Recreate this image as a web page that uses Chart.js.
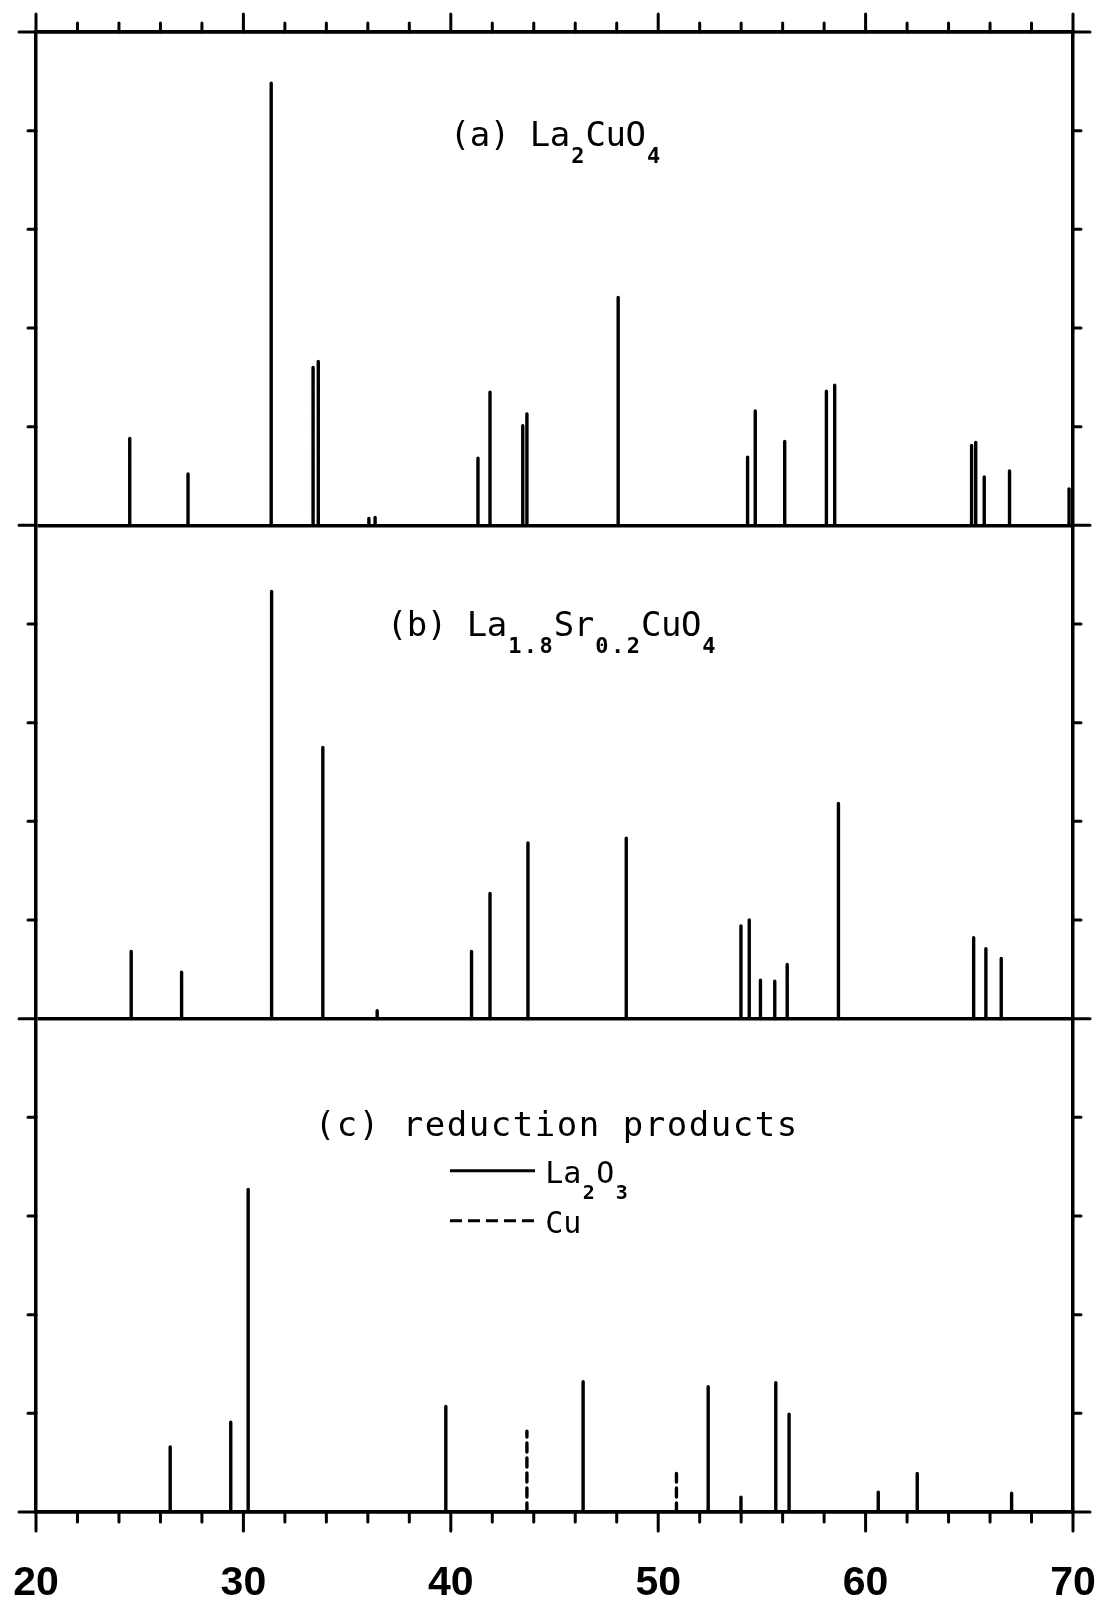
<!DOCTYPE html>
<html>
<head>
<meta charset="utf-8">
<title>XRD line patterns</title>
<script src="https://cdn.jsdelivr.net/npm/chart.js@4.4.1/dist/chart.umd.min.js"></script>
<style>
  html, body { margin: 0; padding: 0; background: #fff; }
  #wrap { width: 1100px; height: 1606px; }
</style>
</head>
<body>
<div id="wrap"><canvas id="xrd" width="1100" height="1606"></canvas></div>
<script>
// bottom axis labels (2 theta, degrees)
var xTickLabels = [20, 30, 40, 50, 60, 70];

// (a) La2CuO4 : peak position (2 theta) and height (in y tick units)
var posA = [24.52, 27.33, 31.34, 33.36, 33.61, 36.05, 36.35, 41.31, 41.89, 43.47, 43.67,
            48.07, 54.31, 54.68, 56.10, 58.11, 58.51, 65.11, 65.31, 65.72, 66.94, 69.81];
var intA = [0.88, 0.52, 4.48, 1.60, 1.66, 0.07, 0.08, 0.68, 1.35, 1.01, 1.13,
            2.31, 0.69, 1.16, 0.85, 1.36, 1.42, 0.81, 0.84, 0.49, 0.55, 0.37];

// (b) La1.8Sr0.2CuO4
var posB = [24.59, 27.02, 31.36, 33.83, 36.45, 41.00, 41.89, 43.72, 48.46,
            53.99, 54.39, 54.93, 55.62, 56.22, 58.69, 65.21, 65.80, 66.54];
var intB = [0.68, 0.47, 4.33, 2.75, 0.08, 0.68, 1.27, 1.78, 1.83,
            0.94, 1.00, 0.39, 0.38, 0.55, 2.18, 0.82, 0.71, 0.61];

// (c) reduction products : La2O3 (solid) and Cu (dashed)
var posLa2O3 = [26.47, 29.39, 30.23, 39.76, 46.38, 52.41, 53.99, 55.67, 56.31, 60.61, 62.49, 67.04];
var intLa2O3 = [0.66, 0.91, 3.27, 1.07, 1.32, 1.27, 0.15, 1.31, 0.99, 0.20, 0.39, 0.19];
var posCu = [43.67, 50.88];
var intCu = [0.82, 0.39];

// each panel is 5 y-units tall, stacked on one axis
var panelBase = { a: 10, b: 5, c: 0 };

// turn positions/heights into vertical stick segments for a line dataset
function sticks(pos, hgt, base) {
    var pts = [];
    pos.forEach(function (x, i) {
        pts.push({ x: x, y: base });
        pts.push({ x: x, y: base + hgt[i] });
        pts.push({ x: x, y: null });
    });
    return pts;
}

function stickSet(label, data, dash) {
    return {
        label: label,
        data: data,
        borderColor: '#000',
        borderWidth: 3.4,
        borderDash: dash || [],
        borderCapStyle: 'round',
        pointRadius: 0,
        spanGaps: false,
        tension: 0
    };
}

// draw plotter style text cell by cell, subscripts smaller and lowered
function drawMono(ctx, parts, x, y, st) {
    var cx = x;
    parts.forEach(function (p) {
        var sub = p[1];
        var size = sub ? st.subSize : st.size;
        var pitch = sub ? st.subPitch : st.pitch;
        var by = sub ? y + st.drop : y;
        ctx.font = (sub ? 'bold ' : '') + size + 'px "DejaVu Sans Mono", monospace';
        for (var i = 0; i < p[0].length; i++) {
            ctx.fillText(p[0][i], cx + pitch / 2, by);
            cx += pitch;
        }
    });
}

var labelA = [['(a) La', 0], ['2', 1], ['CuO', 0], ['4', 1]];
var labelB = [['(b) La', 0], ['1.8', 1], ['Sr', 0], ['0.2', 1], ['CuO', 0], ['4', 1]];
var labelC = [['(c) reduction products', 0]];
var legLa = [['La', 0], ['2', 1], ['O', 0], ['3', 1]];
var legCu = [['Cu', 0]];

var frameDecor = {
    id: 'frameDecor',
    afterDraw: function (chart) {
        var ctx = chart.ctx, xs = chart.scales.x, ys = chart.scales.y, area = chart.chartArea;
        ctx.save();
        ctx.strokeStyle = '#000';
        ctx.lineWidth = 3;
        ctx.lineCap = 'round';
        ctx.beginPath();
        // top & bottom ticks, major every 10, minor every 2
        for (var v = 20; v <= 70; v += 2) {
            var px = xs.getPixelForValue(v);
            var major = v % 10 === 0;
            ctx.moveTo(px, area.top);
            ctx.lineTo(px, area.top - (major ? 18 : 9));
            ctx.moveTo(px, area.bottom);
            ctx.lineTo(px, area.bottom + (major ? 19 : 10));
        }
        // left & right ticks, panel boundaries run past the frame
        for (var u = 0; u <= 15; u++) {
            var py = ys.getPixelForValue(u);
            var len = u % 5 === 0 ? 17 : 8;
            ctx.moveTo(area.left, py);
            ctx.lineTo(area.left - len, py);
            ctx.moveTo(area.right, py);
            ctx.lineTo(area.right + len, py);
        }
        ctx.stroke();

        // panel captions
        ctx.fillStyle = '#000';
        ctx.textAlign = 'center';
        ctx.textBaseline = 'alphabetic';
        var capStyle = { size: 34, pitch: 20, subSize: 22, subPitch: 15.7, drop: 17 };
        drawMono(ctx, labelA, xs.getPixelForValue(39.96), ys.getPixelForValue(13.84), capStyle);
        drawMono(ctx, labelB, xs.getPixelForValue(36.92), ys.getPixelForValue(8.874), capStyle);
        drawMono(ctx, labelC, xs.getPixelForValue(33.40), ys.getPixelForValue(3.806),
            { size: 34, pitch: 22, subSize: 21, subPitch: 15, drop: 17 });

        // legend of panel (c)
        var legStyle = { size: 30, pitch: 18, subSize: 20, subPitch: 15, drop: 16 };
        var lx0 = xs.getPixelForValue(39.96), lx1 = xs.getPixelForValue(44.06);
        var ly1 = ys.getPixelForValue(3.459), ly2 = ys.getPixelForValue(2.952);
        ctx.lineCap = 'butt';
        ctx.beginPath();
        ctx.moveTo(lx0, ly1);
        ctx.lineTo(lx1, ly1);
        ctx.stroke();
        ctx.setLineDash([12, 6]);
        ctx.beginPath();
        ctx.moveTo(lx0, ly2);
        ctx.lineTo(lx1, ly2);
        ctx.stroke();
        ctx.setLineDash([]);
        drawMono(ctx, legLa, xs.getPixelForValue(44.55), ys.getPixelForValue(3.338), legStyle);
        drawMono(ctx, legCu, xs.getPixelForValue(44.55), ys.getPixelForValue(2.830), legStyle);
        ctx.restore();
    }
};

var ctx = document.getElementById('xrd').getContext('2d');
var chart = new Chart(ctx, {
    type: 'line',
    data: {
        datasets: [
            stickSet('La2CuO4', sticks(posA, intA, panelBase.a)),
            stickSet('La1.8Sr0.2CuO4', sticks(posB, intB, panelBase.b)),
            stickSet('La2O3', sticks(posLa2O3, intLa2O3, panelBase.c)),
            stickSet('Cu', sticks(posCu, intCu, panelBase.c), [9, 6])
        ]
    },
    options: {
        responsive: false,
        animation: false,
        layout: { padding: 0, autoPadding: false },
        plugins: {
            legend: { display: false },
            tooltip: { enabled: false }
        },
        scales: {
            x: {
                type: 'linear',
                position: 'bottom',
                min: 20,
                max: 70,
                afterBuildTicks: function (scale) {
                    scale.ticks = xTickLabels.map(function (v) { return { value: v }; });
                },
                afterFit: function (scale) {
                    scale.height = 94;
                    scale.paddingLeft = 0;
                    scale.paddingRight = 0;
                },
                ticks: {
                    autoSkip: false,
                    maxRotation: 0,
                    padding: 47,
                    color: '#000',
                    font: { family: '"Liberation Sans", Arial, sans-serif', size: 41, weight: 'bold' }
                },
                grid: { drawOnChartArea: false, drawTicks: false },
                border: { display: true, color: '#000', width: 3.5 }
            },
            xTop: {
                type: 'linear',
                position: 'top',
                min: 20,
                max: 70,
                afterFit: function (scale) {
                    scale.height = 32;
                    scale.paddingLeft = 0;
                    scale.paddingRight = 0;
                },
                ticks: { display: false },
                grid: { drawOnChartArea: false, drawTicks: false },
                border: { display: true, color: '#000', width: 3.5 }
            },
            y: {
                type: 'linear',
                position: 'left',
                min: 0,
                max: 15,
                afterFit: function (scale) { scale.width = 36; },
                ticks: { display: false, stepSize: 1 },
                grid: {
                    drawTicks: false,
                    color: function (c) { return c.tick && c.tick.value % 5 === 0 ? '#000' : 'rgba(0,0,0,0)'; },
                    lineWidth: 3.5
                },
                border: { display: true, color: '#000', width: 3.5 }
            },
            y2: {
                type: 'linear',
                position: 'right',
                min: 0,
                max: 15,
                afterFit: function (scale) { scale.width = 27; },
                ticks: { display: false, stepSize: 1 },
                grid: { drawOnChartArea: false, drawTicks: false },
                border: { display: true, color: '#000', width: 3.5 }
            }
        }
    },
    plugins: [frameDecor]
});
</script>
</body>
</html>
